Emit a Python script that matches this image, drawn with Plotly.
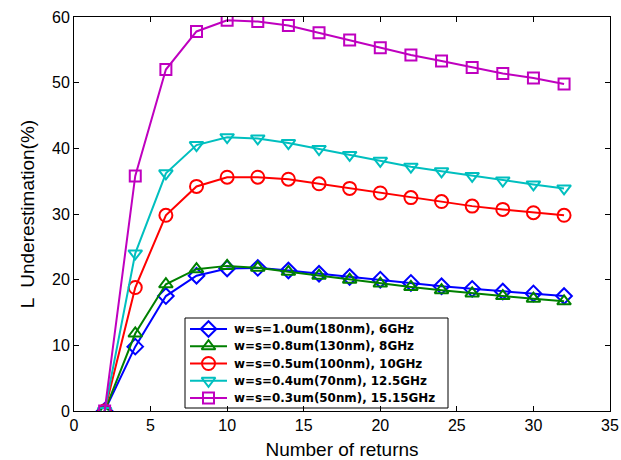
import plotly.graph_objects as go

returns = [2, 4, 6, 8, 10, 12, 14, 16, 18, 20, 22, 24, 26, 28, 30, 32]

labels = [
    "w=s=1.0um(180nm), 6GHz",
    "w=s=0.8um(130nm), 8GHz",
    "w=s=0.5um(100nm), 10GHz",
    "w=s=0.4um(70nm), 12.5GHz",
    "w=s=0.3um(50nm), 15.15GHz",
]

w10 = [0, 9.8, 17.5, 20.6, 21.7, 21.8, 21.4, 20.9, 20.4, 20.0, 19.5, 19.0, 18.6, 18.2, 17.9, 17.5]
w08 = [0, 11.8, 19.3, 21.6, 22.1, 21.8, 21.2, 20.6, 20.0, 19.4, 18.9, 18.4, 17.9, 17.5, 17.1, 16.7]
w05 = [0, 18.8, 29.8, 34.2, 35.6, 35.6, 35.3, 34.6, 33.9, 33.2, 32.5, 31.9, 31.2, 30.7, 30.2, 29.8]
w04 = [0, 24.0, 36.2, 40.5, 41.7, 41.5, 40.8, 39.9, 39.0, 38.1, 37.2, 36.5, 35.8, 35.1, 34.5, 33.9]
w03 = [0, 35.8, 52.0, 57.8, 59.5, 59.3, 58.7, 57.6, 56.5, 55.3, 54.2, 53.3, 52.3, 51.4, 50.7, 49.8]

series = [w10, w08, w05, w04, w03]
colors = ["#0000ff", "#008000", "#ff0000", "#00bfbf", "#bf00bf"]
symbols = ["diamond-open", "triangle-up-open", "circle-open", "triangle-down-open", "square-open"]
sizes = [12, 12, 13, 12, 11]

# figure / plot-area geometry (pixels)
W, H = 621, 460
ML, MR, MT, MB = 74, 11, 17, 49
PW, PH = W - ML - MR, H - MT - MB


def px_x(p):
    return (p - ML) / PW


def px_y(p):
    return (H - MB - p) / PH


fig = go.Figure()
for ys, name, c, s, sz in zip(series, labels, colors, symbols, sizes):
    fig.add_trace(go.Scatter(
        x=returns, y=ys, name=name, mode="lines+markers",
        line=dict(color=c, width=2),
        marker=dict(symbol=s, size=sz, color=c, line=dict(color=c, width=2)),
        showlegend=False,
    ))

# boxed key in the lower middle of the axes, MATLAB style
key_left, key_right = px_x(185), px_x(448)
key_bottom, key_top = px_y(408), px_y(318)
sample_x0, sample_x1 = px_x(190), px_x(227)
text_x = px_x(232)
row0, row_step = px_y(329), 17.25 / PH

fig.add_shape(type="rect", xref="paper", yref="paper",
              x0=key_left, x1=key_right, y0=key_bottom, y1=key_top,
              line=dict(color="black", width=1), fillcolor="rgba(0,0,0,0)")

for i, (name, c, s, sz) in enumerate(zip(labels, colors, symbols, sizes)):
    ry = row0 - i * row_step
    fig.add_trace(go.Scatter(
        x=[sample_x0, sample_x1], y=[ry, ry], mode="lines",
        line=dict(color=c, width=2), xaxis="x2", yaxis="y2",
        showlegend=False, hoverinfo="skip",
    ))
    fig.add_trace(go.Scatter(
        x=[(sample_x0 + sample_x1) / 2], y=[ry], mode="markers",
        marker=dict(symbol=s, size=sz, color=c, line=dict(color=c, width=2)),
        xaxis="x2", yaxis="y2", showlegend=False, hoverinfo="skip",
    ))
    fig.add_annotation(x=text_x, y=ry, xref="paper", yref="paper",
                       text=name, showarrow=False, xanchor="left", yanchor="middle",
                       font=dict(family="DejaVu Sans", size=11.9, color="black", weight="bold"))

axis_common = dict(
    showgrid=False, zeroline=False, showline=True, linecolor="black", linewidth=1,
    mirror="ticks", ticks="inside", ticklen=5, tickcolor="black", automargin=False,
    tickfont=dict(family="Liberation Sans, Arial", size=16, color="black"),
)

fig.update_layout(
    width=W, height=H,
    margin=dict(l=ML, r=MR, t=MT, b=MB),
    paper_bgcolor="white", plot_bgcolor="white",
    showlegend=False,
    xaxis=dict(range=[0, 35], dtick=5,
               title=dict(text="Number of returns", standoff=10,
                          font=dict(family="Liberation Sans, Arial", size=19, color="black")),
               **axis_common),
    yaxis=dict(range=[0, 60], dtick=10,
               title=dict(text="L  Underestimation(%)", standoff=12,
                          font=dict(family="Liberation Sans, Arial", size=19, color="black")),
               **axis_common),
    xaxis2=dict(range=[0, 1], overlaying="x", visible=False, fixedrange=True),
    yaxis2=dict(range=[0, 1], overlaying="y", visible=False, fixedrange=True),
)

fig.write_html("out.html")
